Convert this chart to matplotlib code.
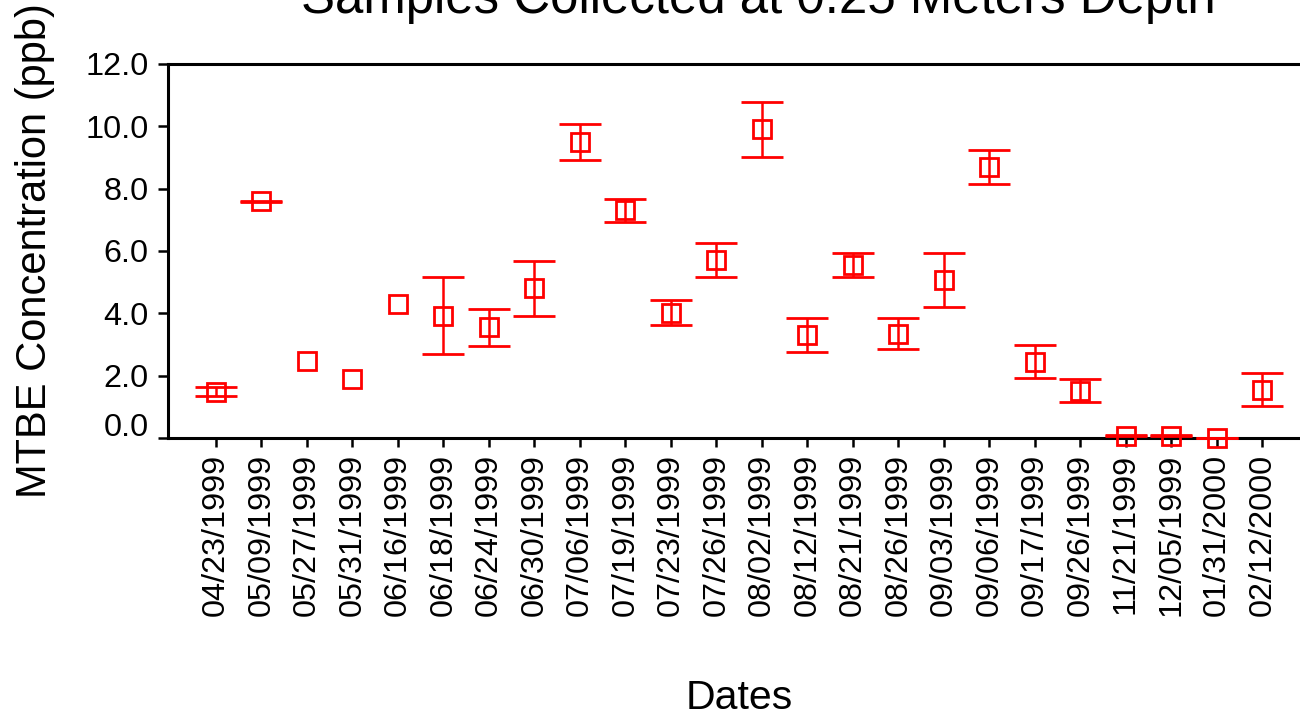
import matplotlib.pyplot as plt
import matplotlib.transforms as mtransforms
import numpy as np

plt.rcParams['font.family'] = ['Liberation Sans', 'DejaVu Sans']

dates = ['04/23/1999', '05/09/1999', '05/27/1999', '05/31/1999', '06/16/1999',
         '06/18/1999', '06/24/1999', '06/30/1999', '07/06/1999', '07/19/1999',
         '07/23/1999', '07/26/1999', '08/02/1999', '08/12/1999', '08/21/1999',
         '08/26/1999', '09/03/1999', '09/06/1999', '09/17/1999', '09/26/1999',
         '11/21/1999', '12/05/1999', '01/31/2000', '02/12/2000']
# mean MTBE concentration (ppb)
mtbe = [1.49, 7.6, 2.48, 1.9, 4.31, 3.93, 3.55, 4.8, 9.5, 7.3,
        4.02, 5.7, 9.9, 3.3, 5.56, 3.35, 5.08, 8.7, 2.45, 1.52,
        0.07, 0.07, 0.0, 1.55]
# spread between replicates, nan where only one sample
spread = [0.15, 0.02, np.nan, np.nan, np.nan, 1.25, 0.59, 0.87, 0.58, 0.38,
          0.4, 0.55, 0.88, 0.55, 0.39, 0.5, 0.87, 0.54, 0.53, 0.38,
          0.02, 0.02, 0.0, 0.53]
yticks = [0, 2, 4, 6, 8, 10, 12]

fig = plt.figure(figsize=(13, 7.23), dpi=100)
ax = fig.add_axes([168 / 1300, 1 - 438 / 723, 1142 / 1300, 374 / 723])

x = np.arange(len(dates))
eb = ax.errorbar(x, mtbe, yerr=spread, fmt='s', color='red', mfc='none',
                 mec='red', ms=12.5, mew=2.0, elinewidth=1.8, capsize=15,
                 capthick=1.9, zorder=5)
for artist in eb.lines[0:1] + eb.lines[1] + eb.lines[2]:
    artist.set_clip_on(False)
for line in eb.lines[1]:
    line.set_zorder(6)
eb.lines[0].set_zorder(7)

ax.set_xlim(-1.055, 24.045)
ax.set_ylim(0, 12)
ax.set_xticks(x)
ax.set_xticklabels(dates, rotation=90)
ax.set_yticks(yticks)
ax.set_yticklabels(['%.1f' % v for v in yticks])

for side in ['left', 'bottom', 'top']:
    ax.spines[side].set_linewidth(2.2)
ax.spines['right'].set_visible(False)
ax.tick_params(axis='both', direction='out', width=1.8, labelsize=23.3,
               colors='black')
ax.tick_params(axis='x', length=6.5, pad=5)
ax.tick_params(axis='y', length=7, pad=7)

# lift the 0.0 label off the corner
lab0 = ax.get_yticklabels()[0]
lab0.set_transform(lab0.get_transform() +
                   mtransforms.ScaledTranslation(0, 10 / 72, fig.dpi_scale_trans))

ax.set_xlabel('Dates', fontsize=29.5)
ax.xaxis.set_label_coords(0.5, -0.645)
ax.set_ylabel('MTBE Concentration (ppb)', fontsize=30)
ax.yaxis.set_label_coords(-0.099, 0.5)

fig.text(758 / 1300, 1 - 13 / 723, 'Samples Collected at 0.25 Meters Depth',
         fontsize=36.7, ha='center', va='baseline')

fig.savefig('out.png', dpi=100)
